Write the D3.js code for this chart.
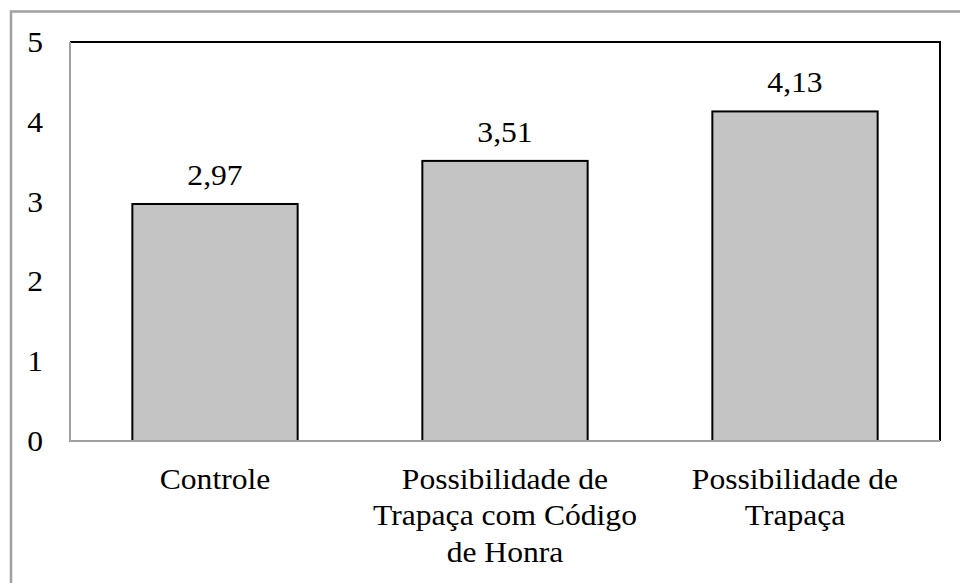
<!DOCTYPE html>
<html><head><meta charset="utf-8">
<script src="https://cdn.jsdelivr.net/npm/d3@7"></script>
</head><body style="margin:0">
<svg id="c" width="960" height="583" style="font-family:'Liberation Serif'"></svg>
<script>
const categories = [
  ["Controle"],
  ["Possibilidade de", "Trapaça com Código", "de Honra"],
  ["Possibilidade de", "Trapaça"]
];
const values = [2.97, 3.51, 4.13];
const valueLabels = ["2,97", "3,51", "4,13"];
const yTicks = [0, 1, 2, 3, 4, 5];

const svg = d3.select("#c");
const FONT = "Liberation Serif";
const fs = 29, sx = 1.09;
const m = {l: 70, r: 940, t: 42, b: 441};

svg.append("path").attr("d", "M11,600 L11,11.5 L970,11.5")
  .attr("fill", "none").attr("stroke", "#a0a0a0").attr("stroke-width", 2.5);

const x = d3.scaleBand().domain(d3.range(categories.length)).range([m.l, m.r]).paddingInner(0.43).paddingOuter(0.215);
const y = d3.scaleLinear().domain([0, 5]).range([m.b, m.t]);

svg.append("path").attr("d", `M${m.l},${m.t} L${m.r},${m.t} L${m.r},${m.b}`)
  .attr("fill", "none").attr("stroke", "#000").attr("stroke-width", 2);

svg.selectAll("rect.bar").data(values).join("rect").attr("class", "bar")
  .attr("x", (d, i) => x(i)).attr("width", x.bandwidth())
  .attr("y", d => y(d)).attr("height", d => y(0) - y(d))
  .attr("fill", "#c4c4c4").attr("stroke", "#000").attr("stroke-width", 2);

svg.append("path").attr("d", `M${m.l},${m.t} L${m.l},${m.b} L${m.r},${m.b}`)
  .attr("fill", "none").attr("stroke", "#a0a0a0").attr("stroke-width", 2);

function styleText(sel) {
  return sel.style("font-family", FONT).style("font-size", fs + "px").attr("fill", "#000");
}

// y tick labels
const yAxis = d3.axisLeft(y).tickValues(yTicks).tickFormat(d3.format("d")).tickSize(0).tickPadding(0);
const ya = svg.append("g").call(yAxis).attr("font-family", FONT).attr("font-size", fs);
ya.select(".domain").remove();
ya.selectAll(".tick").attr("transform", d => `translate(43,${y(d) + 10}) scale(${sx},1)`);
styleText(ya.selectAll("text").attr("x", 0).attr("dy", null).attr("text-anchor", "end"));

// value labels
styleText(svg.selectAll("text.val").data(values).join("text").attr("class", "val")
  .attr("transform", (d, i) => `translate(${x(i) + x.bandwidth() / 2},${y(d) - 19}) scale(${sx},1)`)
  .attr("text-anchor", "middle")
  .text((d, i) => valueLabels[i]));

// category labels
const cat = styleText(svg.selectAll("text.cat").data(categories).join("text").attr("class", "cat")
  .attr("transform", (d, i) => `translate(${x(i) + x.bandwidth() / 2},${m.b + 48}) scale(${sx},1)`)
  .attr("text-anchor", "middle"));
cat.each(function(lines) {
  d3.select(this).selectAll("tspan").data(lines).join("tspan")
    .attr("x", 0).attr("y", (l, j) => j * 36.5).text(l => l);
});
</script>
</body></html>
